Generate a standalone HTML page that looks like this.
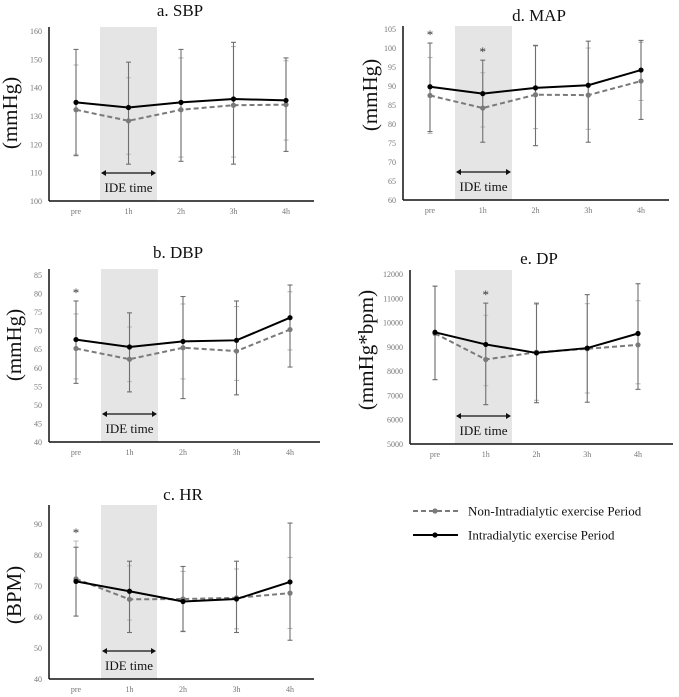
<!DOCTYPE html>
<html><head><meta charset="utf-8">
<style>
html,body{margin:0;padding:0;background:#fff;}
svg{display:block;font-family:"Liberation Serif",serif;}
</style></head>
<body>
<svg id="fig" width="679" height="697" viewBox="0 0 679 697" xmlns="http://www.w3.org/2000/svg">
 <g>
  <g>
   <line x1="413" y1="511" x2="458" y2="511" stroke="#7a7a7a" stroke-width="2" stroke-dasharray="5,3"/>
   <circle cx="435" cy="511" r="2.6" fill="#7a7a7a"/>
   <text x="468" y="515.5" font-size="13" fill="#111">Non-Intradialytic exercise Period</text>
  </g>
  <g>
   <line x1="413" y1="535" x2="458" y2="535" stroke="#000" stroke-width="2"/>
   <circle cx="435" cy="535" r="2.6" fill="#000"/>
   <text x="468" y="539.5" font-size="13" fill="#111">Intradialytic exercise Period</text>
  </g>
 </g>
</svg>
<script>
const categories = ["pre","1h","2h","3h","4h"];

const sbpTicks = [100,110,120,130,140,150,160];
const sbpIde = [134.8,133,134.8,136,135.5];
const sbpNon = [132.2,128.3,132.2,133.8,134];
const sbpIdeLo = [116,113,114,113,117.5];
const sbpIdeHi = [153.5,149,153.5,156,150.5];
const sbpNonLo = [116.5,116.5,115.5,115.5,121.5];
const sbpNonHi = [148,143.5,150.5,154.5,149.5];
const sbpStars = [];

const dbpTicks = [40,45,50,55,60,65,70,75,80,85];
const dbpIde = [67.6,65.6,67.1,67.4,73.5];
const dbpNon = [65.2,62.3,65.4,64.5,70.3];
const dbpIdeLo = [55.8,53.5,51.7,52.7,60.2];
const dbpIdeHi = [78,74.8,79.2,78,82.3];
const dbpNonLo = [57,56.3,57,56.6,64.8];
const dbpNonHi = [74.5,71,77.2,76.5,80.5];
const dbpStars = [0];

const hrTicks = [40,50,60,70,80,90];
const hrIde = [71.5,68.3,65,65.8,71.3];
const hrNon = [72.3,65.7,65.8,66.2,67.7];
const hrIdeLo = [60.3,55,55.3,55,52.5];
const hrIdeHi = [82.5,78,76.3,78,90.3];
const hrNonLo = [60.3,59,55.5,56.2,56.3];
const hrNonHi = [84.5,76.5,74.7,75.5,79.2];
const hrStars = [0];

const mapTicks = [60,65,70,75,80,85,90,95,100,105];
const mapIde = [89.8,88,89.5,90.2,94.2];
const mapNon = [87.5,84.2,87.7,87.6,91.3];
const mapIdeLo = [78,75.2,74.3,75.2,81.2];
const mapIdeHi = [101.3,96.8,100.7,101.8,102];
const mapNonLo = [77.5,79.2,78.8,78.6,86.2];
const mapNonHi = [97.5,93.5,100.5,100,101.5];
const mapStars = [0,1];

const dpTicks = [5000,6000,7000,8000,9000,10000,11000,12000];
const dpIde = [9600,9100,8750,8950,9550];
const dpNon = [9550,8480,8780,8920,9080];
const dpIdeLo = [7650,6620,6700,6720,7250];
const dpIdeHi = [11500,10800,10800,11150,11600];
const dpNonLo = [7650,7400,6800,7100,7480];
const dpNonHi = [11500,10300,10750,10780,10900];
const dpStars = [1];

const NS = "http://www.w3.org/2000/svg";
const svg = document.getElementById("fig");
function mk(tag, attrs, parent){
  const e = document.createElementNS(NS, tag);
  for (const k in attrs) e.setAttribute(k, attrs[k]);
  parent.appendChild(e);
  return e;
}

function panel(cfg){
  const g = mk("g", {}, svg);
  
  
  const yMin = cfg.ticks[0], yMax = cfg.ticks[cfg.ticks.length-1];
  const y = v => cfg.bottom - (v - yMin) / (yMax - yMin) * (cfg.bottom - cfg.tickTop);
  const x = i => cfg.x0 + i * cfg.dx;
  // shading
  const sh = mk("rect", {x: cfg.shade[0], y: cfg.axisTop, width: cfg.shade[1]-cfg.shade[0], height: cfg.bottom - cfg.axisTop, fill: "#e6e5e6"}, g);
  
  
  // title
  const t = mk("text", {x: cfg.titleX, y: cfg.titleY, "font-size": 17, "text-anchor": "middle", fill: "#111"}, g);
  t.textContent = cfg.title;
  
  
  // y label
  const yl = mk("text", {x: 0, y: 0, "font-size": 21, "text-anchor": "middle", fill: "#111", transform: `translate(${cfg.ylabX},${cfg.ylabY}) rotate(-90)`}, g);
  yl.textContent = cfg.ylab;
  
  
  // ticks
  cfg.ticks.forEach(v => {
    const tl = mk("text", {x: cfg.axisX - 7, y: y(v) + 3, "font-size": 8, "text-anchor": "end", fill: "#777"}, g);
    tl.textContent = v;
    
    
  });
  categories.forEach((c, i) => {
    const tl = mk("text", {x: x(i), y: cfg.bottom + 13, "font-size": 8, "text-anchor": "middle", fill: "#777"}, g);
    tl.textContent = c;
    
    
  });
  // axes
  const ya = mk("line", {x1: cfg.axisX, y1: cfg.axisTop, x2: cfg.axisX, y2: cfg.bottom, stroke: "#111", "stroke-width": 1.5}, g);
  
  
  const xa = mk("line", {x1: cfg.axisX, y1: cfg.bottom, x2: cfg.right, y2: cfg.bottom, stroke: "#111", "stroke-width": 1.5}, g);
  
  
  // IDE arrow
  const ay = cfg.bottom - 28;
  const ar = mk("g", {}, g);
  
  
  mk("line", {x1: cfg.shade[0]+2, y1: ay, x2: cfg.shade[1]-2, y2: ay, stroke: "#111", "stroke-width": 1.2}, ar);
  mk("path", {d: `M${cfg.shade[0]+1},${ay} l5,-3 v6 z M${cfg.shade[1]-1},${ay} l-5,-3 v6 z`, fill: "#111"}, ar);
  const it = mk("text", {x: (cfg.shade[0]+cfg.shade[1])/2, y: cfg.bottom - 9, "font-size": 13, "text-anchor": "middle", fill: "#111"}, g);
  it.textContent = "IDE time";
  
  
  // error bars
  function ebars(lo, hi, col, nm){
    lo.forEach((l, i) => {
      const e = mk("g", {stroke: col, "stroke-width": 1.1}, g);
      
      
      mk("line", {x1: x(i), y1: y(l), x2: x(i), y2: y(hi[i])}, e);
      mk("line", {x1: x(i)-2.5, y1: y(l), x2: x(i)+2.5, y2: y(l)}, e);
      mk("line", {x1: x(i)-2.5, y1: y(hi[i]), x2: x(i)+2.5, y2: y(hi[i])}, e);
    });
  }
  ebars(cfg.nonLo, cfg.nonHi, "#bdbdbd", "error-bar-non-ide");
  ebars(cfg.ideLo, cfg.ideHi, "#6f6f6f", "error-bar-ide");
  // series
  function series(vals, col, dash, nm){
    const pts = vals.map((v, i) => `${x(i)},${y(v)}`).join(" ");
    const pl = mk("polyline", {points: pts, fill: "none", stroke: col, "stroke-width": 2, "stroke-dasharray": dash}, g);
    
    
    vals.forEach((v, i) => {
      const c = mk("circle", {cx: x(i), cy: y(v), r: 2.6, fill: col}, g);
      
      
    });
  }
  series(cfg.non, "#7a7a7a", "5,3", "non-ide-series");
  series(cfg.ide, "#000", "none", "ide-series");
  // stars
  cfg.stars.forEach(i => {
    const top = Math.max(cfg.ideHi[i], cfg.nonHi[i]);
    const s = mk("text", {x: x(i), y: y(top) - 4, "font-size": 13, "text-anchor": "middle", fill: "#333"}, g);
    s.textContent = "*";
    
    
  });
}

panel({name:"sbp", title:"a. SBP", titleX:180, titleY:16, ylab:"(mmHg)", ylabX:17, ylabY:113,
  ticks:sbpTicks, bottom:201, tickTop:31, axisTop:27, axisX:49, right:314, x0:76, dx:52.5, shade:[100,157],
  ide:sbpIde, non:sbpNon, ideLo:sbpIdeLo, ideHi:sbpIdeHi, nonLo:sbpNonLo, nonHi:sbpNonHi, stars:sbpStars});
panel({name:"dbp", title:"b. DBP", titleX:178, titleY:258, ylab:"(mmHg)", ylabX:21, ylabY:345,
  ticks:dbpTicks, bottom:442, tickTop:275, axisTop:269, axisX:49, right:320, x0:76, dx:53.5, shade:[101,158],
  ide:dbpIde, non:dbpNon, ideLo:dbpIdeLo, ideHi:dbpIdeHi, nonLo:dbpNonLo, nonHi:dbpNonHi, stars:dbpStars});
panel({name:"hr", title:"c. HR", titleX:183, titleY:500, ylab:"(BPM)", ylabX:21, ylabY:595,
  ticks:hrTicks, bottom:679, tickTop:524, axisTop:505, axisX:49, right:314, x0:76, dx:53.5, shade:[101,157],
  ide:hrIde, non:hrNon, ideLo:hrIdeLo, ideHi:hrIdeHi, nonLo:hrNonLo, nonHi:hrNonHi, stars:hrStars});
panel({name:"map", title:"d. MAP", titleX:539, titleY:21, ylab:"(mmHg)", ylabX:377, ylabY:95,
  ticks:mapTicks, bottom:200, tickTop:29, axisTop:26, axisX:403, right:669, x0:430, dx:52.75, shade:[455,512],
  ide:mapIde, non:mapNon, ideLo:mapIdeLo, ideHi:mapIdeHi, nonLo:mapNonLo, nonHi:mapNonHi, stars:mapStars});
panel({name:"dp", title:"e. DP", titleX:539, titleY:264, ylab:"(mmHg*bpm)", ylabX:373, ylabY:350,
  ticks:dpTicks, bottom:444, tickTop:274, axisTop:270, axisX:410, right:673, x0:435, dx:50.75, shade:[455,512],
  ide:dpIde, non:dpNon, ideLo:dpIdeLo, ideHi:dpIdeHi, nonLo:dpNonLo, nonHi:dpNonHi, stars:dpStars});
</script>
</body></html>
